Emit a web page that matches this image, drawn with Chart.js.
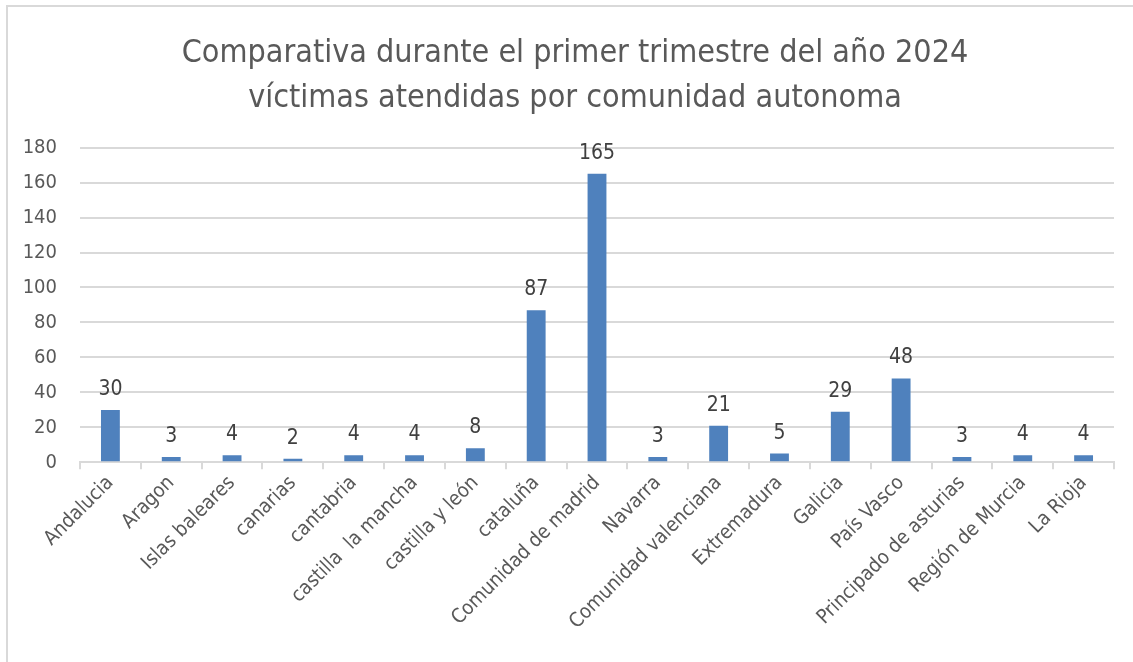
<!DOCTYPE html>
<html>
<head>
<meta charset="utf-8">
<script src="https://cdn.jsdelivr.net/npm/chart.js@4"></script>
<style>
  html, body { margin: 0; padding: 0; background: #fff; overflow: hidden; }
  #wrap { position: absolute; left: 6px; top: 5px; width: 1127px; height: 657px;
          border-left: 2px solid #d9d9d9; border-top: 2px solid #d9d9d9; box-sizing: border-box; }
  #chart { position: absolute; left: 0; top: 0; }
</style>
</head>
<body>
<div id="wrap"><canvas id="chart" width="1125" height="655"></canvas></div>
<script>
const comunidades = ['Andalucia', 'Aragon', 'Islas baleares', 'canarias', 'cantabria',
  'castilla  la mancha', 'castilla y león', 'cataluña', 'Comunidad de madrid', 'Navarra',
  'Comunidad valenciana', 'Extremadura', 'Galicia', 'País Vasco', 'Principado de asturias',
  'Región de Murcia', 'La Rioja'];
const victimas = [30, 3, 4, 2, 4, 4, 8, 87, 165, 3, 21, 5, 29, 48, 3, 4, 4];
const tituloLineas = ['Comparativa durante el primer trimestre del año 2024',
  'víctimas atendidas por comunidad autonoma'];

const fuente = "'DejaVu Sans Condensed', 'Liberation Sans Narrow', 'Roboto', sans-serif";

// valores encima de cada barra
const etiquetas = {
  id: 'etiquetas',
  afterLayout(chart) {
    // el título del original está algo a la derecha del centro del lienzo
    chart.titleBlock.left += 7;
    chart.titleBlock.right += 7;
  },
  afterDatasetsDraw(chart) {
    const ctx = chart.ctx;
    const meta = chart.getDatasetMeta(0);
    ctx.save();
    ctx.font = '21px ' + fuente;
    ctx.fillStyle = '#404040';
    ctx.textAlign = 'center';
    ctx.textBaseline = 'bottom';
    meta.data.forEach((bar, i) => {
      ctx.fillText(String(victimas[i]), bar.x, bar.y - 10);
    });
    ctx.restore();
  }
};

new Chart(document.getElementById('chart').getContext('2d'), {
  type: 'bar',
  data: {
    labels: comunidades,
    datasets: [{
      data: victimas,
      backgroundColor: '#4f81bd',
      categoryPercentage: 1,
      barPercentage: 0.31
    }]
  },
  options: {
    responsive: false,
    animation: false,
    layout: { padding: { left: 14, right: 19, top: 10, bottom: 26 } },
    plugins: {
      legend: { display: false },
      tooltip: { enabled: false },
      title: {
        display: true,
        text: tituloLineas,
        color: '#595959',
        font: { family: fuente, size: 32, weight: 'normal', lineHeight: 1.4 },
        padding: { top: 14, bottom: 27 }
      }
    },
    scales: {
      x: {
        grid: { drawOnChartArea: false, color: '#d9d9d9', tickLength: 7, lineWidth: 2 },
        border: { color: '#d9d9d9', width: 2 },
        ticks: { color: '#595959', font: { family: fuente, size: 20 }, minRotation: 45, maxRotation: 45, padding: 2 }
      },
      y: {
        min: 0, max: 180,
        afterFit(scale) { scale.width = 58; },
        ticks: { stepSize: 20, color: '#595959', font: { family: fuente, size: 20 }, padding: 23 },
        grid: { color: '#d9d9d9', lineWidth: 2, drawTicks: false },
        border: { display: false }
      }
    }
  },
  plugins: [etiquetas]
});
</script>
</body>
</html>
